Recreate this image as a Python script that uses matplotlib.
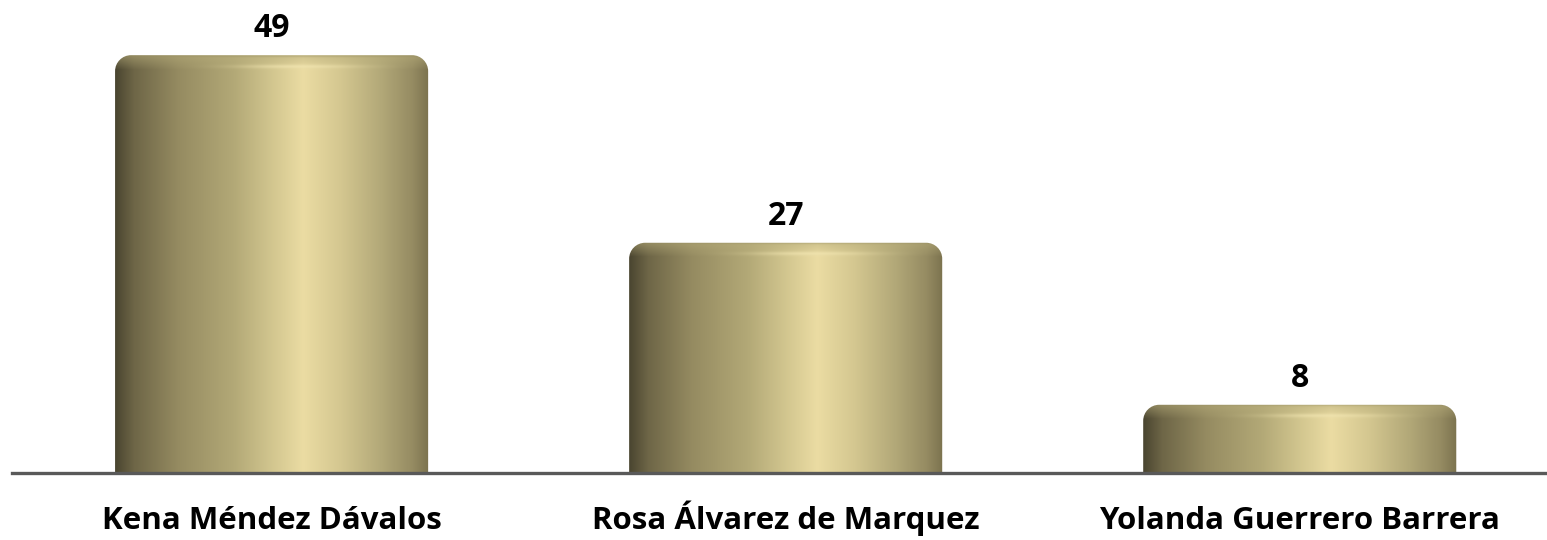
import numpy as np
import matplotlib
matplotlib.use('Agg')
import matplotlib.pyplot as plt
from matplotlib.path import Path
from matplotlib.patches import PathPatch
from matplotlib.colors import to_rgb

categories = ['Kena Méndez Dávalos', 'Rosa Álvarez de Marquez', 'Yolanda Guerrero Barrera']
values = [49, 27, 8]

W, H = 1547, 540
fig = plt.figure(figsize=(W / 100, H / 100), dpi=100)
ax = fig.add_axes([12 / W, 67 / H, 1 - 12 / W, (H - 67 - 4) / H])
ax.set_xlim(-0.505, 2.481)
ax.set_ylim(0, 55)

bars = ax.bar(range(len(values)), values, width=0.609, color='none', edgecolor='none')

for s in ['top', 'left', 'right']:
    ax.spines[s].set_visible(False)
ax.spines['bottom'].set_color('#595959')
ax.spines['bottom'].set_linewidth(2.4)
ax.spines['bottom'].set_zorder(5)
ax.set_yticks([])
ax.set_xticks([])

# horizontal gradient stops
stops = [(0.0, '#4a4530'), (0.06, '#6e6647'), (0.2, '#958b61'), (0.38, '#b3a977'),
         (0.5, '#d2c68f'), (0.6, '#ebdca3'), (0.72, '#d4c790'), (0.85, '#b2a878'),
         (0.95, '#958b62'), (1.0, '#7c734f')]
pos = np.array([s[0] for s in stops])
cols = np.array([to_rgb(s[1]) for s in stops])

px_per_x = ax.transData.transform((1, 0))[0] - ax.transData.transform((0, 0))[0]
px_per_y = ax.transData.transform((0, 1))[1] - ax.transData.transform((0, 0))[1]
r_px = 16
rx = r_px / px_per_x
ry = r_px / px_per_y
k = 0.5523

for b, v, cat in zip(bars, values, categories):
    x0 = b.get_x()
    w = b.get_width()
    h = b.get_height()
    x1 = x0 + w
    nx = int(w * px_per_x)
    ny = int(h * px_per_y)
    fx = np.linspace(0, 1, nx)
    row = np.stack([np.interp(fx, pos, cols[:, c]) for c in range(3)], axis=-1)
    img = np.repeat(row[None, :, :], ny, axis=0)
    t = np.arange(ny)[:, None]
    flat = np.array(to_rgb('#b7ad7b'))
    wgt = np.clip(1 - t / 14.0, 0, 1) * 0.55
    img = img * (1 - wgt[..., None]) + flat * wgt[..., None]
    hl = np.exp(-((t - 11) / 2.0) ** 2) * np.exp(-((fx[None, :] - 0.58) / 0.18) ** 2) * 0.6
    img = img * (1 - hl[..., None]) + np.array(to_rgb('#f4e8b4')) * hl[..., None]
    edge = np.exp(-((t - 0.5) / 1.2) ** 2) * 0.25
    img = img * (1 - edge[..., None]) + np.array(to_rgb('#8a8258')) * edge[..., None]

    verts = [(x0, 0), (x0, h - ry),
             (x0, h - ry + k * ry), (x0 + rx - k * rx, h), (x0 + rx, h),
             (x1 - rx, h),
             (x1 - rx + k * rx, h), (x1, h - ry + k * ry), (x1, h - ry),
             (x1, 0), (x0, 0)]
    codes = [Path.MOVETO, Path.LINETO,
             Path.CURVE4, Path.CURVE4, Path.CURVE4,
             Path.LINETO,
             Path.CURVE4, Path.CURVE4, Path.CURVE4,
             Path.LINETO, Path.CLOSEPOLY]
    patch = PathPatch(Path(verts, codes), facecolor='none', edgecolor='none')
    ax.add_patch(patch)
    im = ax.imshow(img, extent=(x0, x1, 0, h), origin='upper', aspect='auto',
                   interpolation='bilinear', zorder=2)
    im.set_clip_path(patch)
    ax.annotate(str(v), (x0 + w / 2, h), xytext=(0, 18), textcoords='offset pixels',
                ha='center', va='baseline', fontfamily='Open Sans', fontweight='bold',
                fontsize=23, color='black')
    ax.annotate(cat, (x0 + w / 2, 0), xytext=(0, -56), textcoords='offset pixels',
                ha='center', va='baseline', fontfamily='Open Sans', fontweight='bold',
                fontsize=22.5, color='black', annotation_clip=False)

ax.set_xlim(-0.505, 2.481)
ax.set_ylim(0, 55)
fig.savefig('out.png', dpi=100)
